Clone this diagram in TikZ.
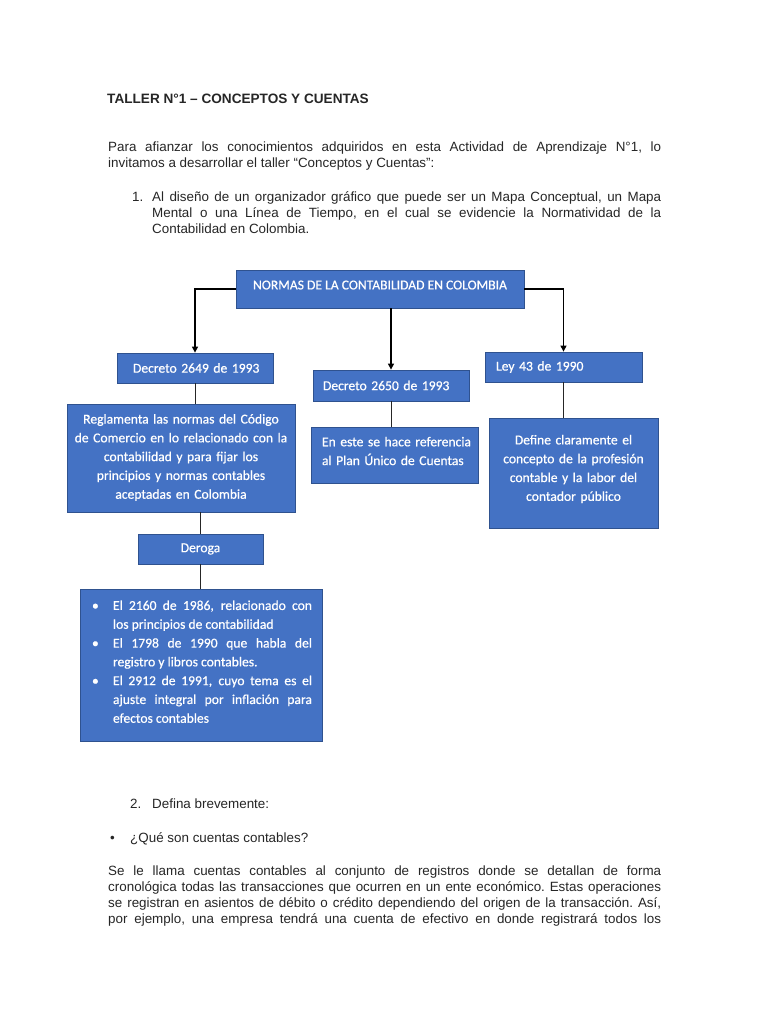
\documentclass[tikz,border=0pt]{standalone}
\usepackage{fontspec}
\setmainfont{Liberation Sans}
\newfontfamily\calibri[FakeBold=0.6]{Carlito}
\usetikzlibrary{arrows.meta, positioning, calc}

\definecolor{azul}{HTML}{4472C4}
\definecolor{borde}{HTML}{2F528F}
\newcommand{\cajafont}{\calibri\fontsize{13.6}{18.8}\selectfont\tolerance=9999\hyphenpenalty=10000}
\newcommand{\textofont}{\fontsize{13.4}{16}\selectfont\frenchspacing\tolerance=9999\hyphenpenalty=10000}
\newcommand{\punto}{\par\noindent\hangindent=23pt\hangafter=1\makebox[23pt][l]{\hspace{2pt}\textbullet}}

\begin{document}
\begin{tikzpicture}[x=1pt, y=-1pt,
  caja/.style = {draw=borde, fill=azul, text=white, font=\cajafont, inner sep=0pt, line width=0.8pt},
  texto/.style = {anchor=base west, inner sep=0pt, font=\textofont, text=black!85},
  flecha/.style = {-{Triangle[length=6pt,width=6pt]}, line width=1.2pt},
  linea/.style = {line width=1pt, draw=black!85}]
\fill[white] (0,0) rectangle (768,1024);
\useasboundingbox (0,0) rectangle (768,1024);

% enunciado
\node[texto, font=\bfseries\fontsize{13.6}{16}\selectfont] (titulo) at (107,104) {TALLER N°1 – CONCEPTOS Y CUENTAS};
\node[texto, text width=553pt, align=justify] (intro) at (108,152) {Para afianzar los conocimientos adquiridos en esta Actividad de Aprendizaje N°1, lo\linebreak invitamos a desarrollar el taller “Conceptos y Cuentas”:};
\node[texto] (num1) at (132,202) {1.};
\node[texto, text width=509pt, align=justify] (item1) at (152,202) {Al diseño de un organizador gráfico que puede ser un Mapa Conceptual, un Mapa\linebreak Mental o una Línea de Tiempo, en el cual se evidencie la Normatividad de la\linebreak Contabilidad en Colombia.};

% mapa conceptual
\node[caja, minimum width=288pt, minimum height=38pt, text depth=8pt] (normas) at (380,289) {NORMAS DE LA CONTABILIDAD EN COLOMBIA};
\node[caja, minimum width=156pt, minimum height=30pt, text width=124pt, inner xsep=16pt, align=left] (d2649) at (195,368) {\mbox{Decreto 2649 de 1993}};
\node[caja, minimum width=156pt, minimum height=31pt, text width=136pt, inner xsep=10pt, align=left] (d2650) at (391,385.5) {\mbox{Decreto 2650 de 1993}};
\node[caja, minimum width=157pt, minimum height=30pt, text width=135pt, inner xsep=11pt, align=left] (ley) at (563.5,367) {\mbox{Ley 43 de 1990}};
\node[caja, minimum width=228pt, minimum height=108pt, text width=224pt, inner xsep=2pt, align=center] (regl) at (181,458) {Reglamenta las normas del Código\\ de Comercio en lo relacionado con la\\ contabilidad y para fijar los\\ principios y normas contables\\ aceptadas en Colombia\par\vspace{1pt}};
\node[caja, minimum width=167pt, minimum height=56pt, text width=145pt, inner xsep=11pt, align=left] (este) at (394.5,455) {\mbox{En este se hace referencia}\\ \mbox{al Plan Único de Cuentas}\par\vspace{8pt}};
\node[caja, minimum width=169pt, minimum height=110pt, text width=165pt, inner xsep=2pt, align=center] (define) at (573.5,473) {Define claramente el\\ concepto de la profesión\\ contable y la labor del\\ contador público\par\vspace{8pt}};
\node[caja, minimum width=125pt, minimum height=30pt] (deroga) at (200.5,549) {Deroga};
\node[caja, minimum width=242pt, minimum height=152pt, text width=222pt, inner xsep=10pt, align=justify] (lista) at (201,665) {%
\punto El 2160 de 1986, relacionado con\linebreak los principios de contabilidad
\punto El 1798 de 1990 que habla del\linebreak registro y libros contables.
\punto El 2912 de 1991, cuyo tema es el\linebreak ajuste integral por inflación para\linebreak efectos contables\par\vspace{16pt}};

\draw[flecha] (normas.west) -| (d2649.north);
\draw[flecha] (d2650.north |- normas.south) -- (d2650.north);
\draw[flecha] (normas.east) -| (ley.north);
\draw[linea] (d2649.south) -- (regl.north -| d2649.south);
\draw[linea] (d2650.south) -- (este.north -| d2650.south);
\draw[linea] (ley.south) -- (define.north -| ley.south);
\draw[linea] (deroga.north |- regl.south) -- (deroga.north);
\draw[linea] (deroga.south) -- (lista.north -| deroga.south);

% segunda parte
\node[texto] (num2) at (130,808) {2.};
\node[texto] (item2) at (152,808) {Defina brevemente:};
\node[texto] (punto) at (110,842) {•};
\node[texto] (pregunta) at (130,842) {¿Qué son cuentas contables?};
\node[texto, text width=553pt, align=justify] (respuesta) at (108,875) {Se le llama cuentas contables al conjunto de registros donde se detallan de forma\linebreak cronológica todas las transacciones que ocurren en un ente económico. Estas operaciones\linebreak se registran en asientos de débito o crédito dependiendo del origen de la transacción. Así,\linebreak por ejemplo, una empresa tendrá una cuenta de efectivo en donde registrará todos los\linebreak\null};
\end{tikzpicture}
\end{document}
